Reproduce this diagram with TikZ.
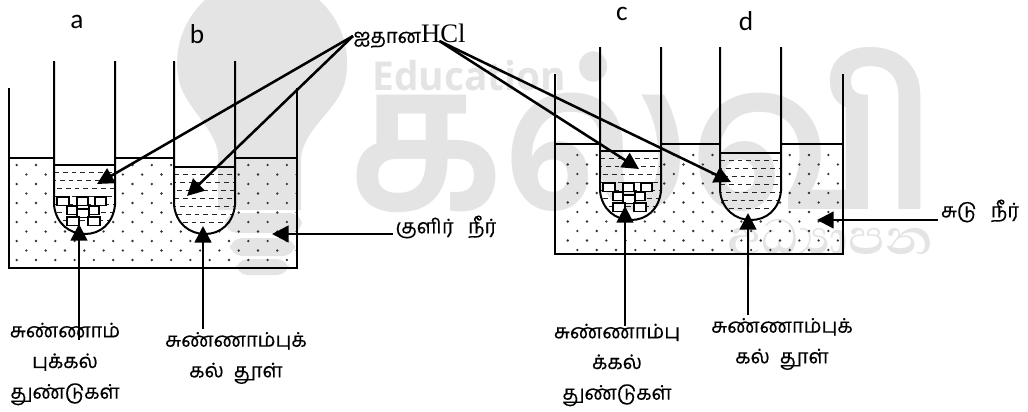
\documentclass[tikz,border=0pt]{standalone}
\usepackage{fontspec}
\usepackage{tikz}
\usetikzlibrary{arrows.meta, calc}
\setmainfont{Liberation Serif}
\newfontfamily\tamfont[Script=Tamil, FakeBold=.35]{Hind Madurai}
\newfontfamily\wmtamfont[Script=Tamil]{Hind Madurai}
\newfontfamily\sinfont[Script=Sinhala]{Abhaya Libre}
\newfontfamily\letfont{Carlito}
\newfontfamily\markfont{Open Sans}
\definecolor{wmgray}{HTML}{E4E4E4}
\newcommand{\tubeshape}[1]{(#1,61) -- (#1,205) .. controls (#1+2,224) and (#1+16,234) .. (#1+31,234) .. controls (#1+46,234) and (#1+59,224) .. (#1+61,205) -- (#1+61,61)}

\begin{document}
\begin{tikzpicture}[
    x=.75pt, y=-.75pt,
    wall/.style={line width=1.5pt},
    rel/.style={-{Triangle[length=12.5pt, width=12.5pt]}, line width=1.9pt},
    lbl/.style={font=\tamfont\fontsize{15}{23}\selectfont, align=center, inner sep=2pt},
    tag/.style={font=\letfont\fontsize{20.5}{20.5}\selectfont, inner sep=0pt},
    acid/.style={line width=.7pt, black!85, dash pattern=on 3.6pt off 3pt},
    stone/.style={draw, fill=white, line width=1pt},
  ]

  \useasboundingbox (0,0) rectangle (1028,411);

  % watermark
  \begin{scope}
    \clip (0,0) rectangle (1028,411);
    \fill[wmgray] (218,210) -- (218,153) .. controls (214,128) and (190,112) .. (180,85)
      arc[start angle=165, end angle=375, radius=85] .. controls (335,112) and (305,128) .. (301,157) -- (301,210) -- cycle;
    \fill[wmgray, rounded corners=9pt] (225,213) rectangle (302,233);
    \fill[wmgray, rounded corners=9pt] (230,238) rectangle (295,256);
    \fill[wmgray, rounded corners=9pt] (236,259) rectangle (289,275);
    \node[inner sep=0pt, text=wmgray] (educ) at (469,76) {\resizebox*{145pt}{23pt}{\markfont\bfseries Education}};
    \node[inner sep=0pt, text=wmgray] (kalvi) at (643,130) {\resizebox*{440pt}{124pt}{\wmtamfont\bfseries கல்வி}};
    \node[inner sep=0pt, text=wmgray] (adya) at (830,243) {\resizebox*{154pt}{36pt}{\sinfont\bfseries අධ්‍යාපන}};
  \end{scope}

  % beakers with their two tubes
  \foreach \ox/\oy/\dx/\dy/\ph in {0/0/0/0/0, 546/-14/5/4/1} {
    \begin{scope}[shift={(\ox,\oy)}]
      \begin{scope}[even odd rule]
        \clip (9,158) rectangle (297,268) \tubeshape{54} \tubeshape{174};
        \foreach \j in {0,...,10} {
          \foreach \i in {0,...,14} {
            \fill[black!80] ({16.7+\dx+19.3*\i+9.7*mod(\j+\ph,2)},{165+\dy+9.5*\j}) circle[radius=1.3];
          }
        }
      \end{scope}
      \foreach \tx/\ty in {54/165, 174/167} {
        \begin{scope}
          \clip \tubeshape{\tx} -- cycle;
          \foreach \j in {0,...,6} {
            \pgfmathsetmacro\phs{mod(\j,3)*2.2}
            \draw[acid, dash phase=\phs pt] (\tx,{\ty+7+8*\j}) -- (\tx+61,{\ty+7+8*\j});
          }
        \end{scope}
        \draw[line width=1.1pt] (\tx,\ty) -- (\tx+61,\ty);
        \draw[wall] \tubeshape{\tx};
      }
      \foreach \sx/\sy/\sw in {57/197/12, 77/197/11, 95/197/11, 67/206/10, 89/206/10, 77/209/12, 67/217/12, 88/217/12} {
        \draw[stone] (\sx,\sy) rectangle (\sx+\sw,\sy+8.5);
      }
      \draw[wall] (9,88) -- (9,268) -- (297,268) -- (297,88);
      \draw[wall] (9,158) -- (54,158) (115,158) -- (174,158) (235,158) -- (297,158);
    \end{scope}
  }

  \node[tag] (nodea) at (77,22) {a};
  \node[tag] (nodeb) at (197,34) {b};
  \node[tag] (nodec) at (622,14) {c};
  \node[tag] (noded) at (746,21) {d};

  \node[inner sep=0pt, anchor=west] (hcl) at (353,36) {\tamfont\fontsize{15}{15}\selectfont ஐதான\rmfamily\fontsize{20}{20}\selectfont HCl};
  \node[lbl] (cold) at (446,227) {குளிர்~~~நீர்};
  \node[lbl] (hot) at (980,211) {சுடு~~~நீர்};
  \node[lbl] (lbla) at (65,364) {சுண்ணாம்\\புக்கல்\\துண்டுகள்};
  \node[lbl] (lblb) at (236,358) {சுண்ணாம்புக்\\கல்~~தூள்};
  \node[lbl] (lblc) at (617,365) {சுண்ணாம்பு\\க்கல்\\துண்டுகள்};
  \node[lbl] (lbld) at (782,344) {சுண்ணாம்புக்\\கல்~~தூள்};

  \coordinate (tipa) at (97,184);
  \coordinate (tipb) at (187,196);
  \coordinate (tipc) at (639,169);
  \coordinate (tipd) at (731,182);
  \coordinate (tipe) at (79,224);
  \coordinate (tipf) at (203,226);
  \coordinate (tipg) at (625,206);
  \coordinate (tiph) at (748,213);
  \coordinate (tipcold) at (272,234);
  \coordinate (tiphot) at (817,220);

  \draw[rel] (hcl.west) -- (tipa);
  \draw[rel] (hcl.west) -- (tipb);
  \draw[rel] ($(hcl.center)+(30,5)$) -- (tipc);
  \draw[rel] ($(hcl.center)+(30,5)$) -- (tipd);
  \draw[rel] ($(lbla.north -| tipe)+(0,20)$) -- (tipe);
  \draw[rel] (lblb.north -| tipf) -- (tipf);
  \draw[rel] ($(lblc.north -| tipg)+(0,5)$) -- (tipg);
  \draw[rel] (lbld.north -| tiph) -- (tiph);
  \draw[rel] (cold.west |- tipcold) -- (tipcold);
  \draw[rel] (hot.west |- tiphot) -- (tiphot);
\end{tikzpicture}
\end{document}
